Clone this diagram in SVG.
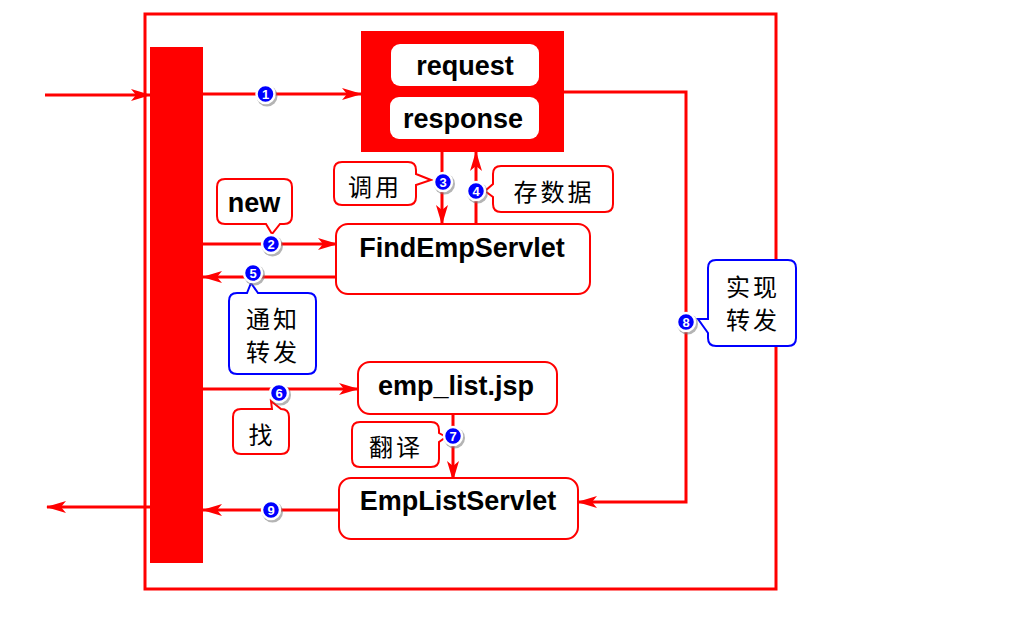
<svg xmlns="http://www.w3.org/2000/svg" width="1024" height="638" viewBox="0 0 1024 638">
<style>
.frame{fill:none;stroke:#ff0000;stroke-width:3}
.bar{fill:#ff0000}
.box{fill:#ffffff;stroke:#ff0000;stroke-width:2}
.ibox{fill:#ffffff;stroke:none}
.lbl{font-family:"Liberation Sans",Arial,sans-serif;font-weight:bold;font-size:27px;fill:#000000;text-anchor:middle}
.cn{font-family:"Noto Sans CJK SC","Noto Sans",sans-serif;font-size:24px;fill:#000000;text-anchor:middle;dominant-baseline:central;letter-spacing:3px}
.co{fill:#ffffff;stroke:#ff0000;stroke-width:2}
.cb{fill:#ffffff;stroke:#0000ff;stroke-width:2}
.con{fill:none;stroke:#ff0000;stroke-width:3}
.bsh{fill:#777777;opacity:0.55}
.bc{fill:#0000ff;stroke:#ffffff;stroke-width:2.5}
.bn{font-family:"Liberation Sans",Arial,sans-serif;font-weight:bold;font-size:13px;fill:#ffffff;text-anchor:middle;dominant-baseline:central}
</style>
<defs>
<marker id="ah" markerUnits="userSpaceOnUse" markerWidth="20" markerHeight="12" viewBox="0 0 20 12" refX="19" refY="6" orient="auto">
<path d="M0,0 L20,6 L0,12 L5,6 Z" fill="#ff0000"/>
</marker>
</defs>
<rect width="1024" height="638" fill="#ffffff"/>
<rect id="frame" class="frame" x="145" y="14" width="631" height="575"/>
<g id="container"><rect class="bar" x="150" y="47" width="53" height="516"/></g>

<g id="connectors">
<path class="con" d="M45,95 H150" marker-end="url(#ah)"/>
<path class="con" d="M203,94 H361" marker-end="url(#ah)"/>
<path class="con" d="M203,244 H337" marker-end="url(#ah)"/>
<path class="con" d="M442,152 V224" marker-end="url(#ah)"/>
<path class="con" d="M476,224 V152" marker-end="url(#ah)"/>
<path class="con" d="M336,277 H203" marker-end="url(#ah)"/>
<path class="con" d="M203,389 H358" marker-end="url(#ah)"/>
<path class="con" d="M453,414 V480" marker-end="url(#ah)"/>
<path class="con" d="M564,92 H686 V502 H578" marker-end="url(#ah)"/>
<path class="con" d="M339,510 H203" marker-end="url(#ah)"/>
<path class="con" d="M150,507 H47" marker-end="url(#ah)"/>
</g>

<g id="reqresp">
<rect class="bar" x="361" y="31" width="203" height="121"/>
<rect class="ibox" x="391" y="44" width="148" height="42" rx="9"/>
<rect class="ibox" x="390" y="97" width="149" height="42" rx="9"/>
<text class="lbl" x="465" y="75">request</text>
<text class="lbl" x="463" y="128">response</text>
</g>

<g id="findemp">
<rect class="box" x="336" y="224" width="254" height="70" rx="12"/>
<text class="lbl" x="462" y="257">FindEmpServlet</text>
</g>

<g id="emplistjsp">
<rect class="box" x="358" y="362" width="199" height="52" rx="12"/>
<text class="lbl" x="456" y="395">emp_list.jsp</text>
</g>

<g id="emplistservlet">
<rect class="box" x="339" y="478" width="239" height="61" rx="12"/>
<text class="lbl" x="458" y="510">EmpListServlet</text>
</g>

<g id="callout-new">
<path class="co" d="M225,179 H284 Q292,179 292,187 V216 Q292,224 284,224 H280 L272,234 L266,224 H225 Q217,224 217,216 V187 Q217,179 225,179 Z"/>
<text class="lbl" x="254" y="212">new</text>
</g>

<g id="callout-diaoyong">
<path class="co" d="M342,162 H408 Q416,162 416,170 V174 L431,180 L416,185 V197 Q416,205 408,205 H342 Q334,205 334,197 V170 Q334,162 342,162 Z"/>
<text class="cn" x="375" y="185">调用</text>
</g>

<g id="callout-cunshuju">
<path class="co" d="M501,166 H605 Q613,166 613,174 V204 Q613,212 605,212 H501 Q493,212 493,204 V197 L485,191 L493,184 V174 Q493,166 501,166 Z"/>
<text class="cn" x="554" y="190">存数据</text>
</g>

<g id="callout-tongzhi">
<path class="cb" d="M237,293 H247 L251,283 L258,293 H308 Q316,293 316,301 V366 Q316,374 308,374 H237 Q229,374 229,366 V301 Q229,293 237,293 Z"/>
<text class="cn" x="273" y="317">通知</text>
<text class="cn" x="273" y="350">转发</text>
</g>

<g id="callout-zhao">
<path class="co" d="M241,409 H272 L271,401 L281,409 Q289,409 289,417 V446 Q289,454 281,454 H241 Q233,454 233,446 V417 Q233,409 241,409 Z"/>
<text class="cn" x="262" y="433">找</text>
</g>

<g id="callout-fanyi">
<path class="co" d="M360,422 H431 Q439,422 439,430 V433 L446,437 L439,442 V459 Q439,467 431,467 H360 Q352,467 352,459 V430 Q352,422 360,422 Z"/>
<text class="cn" x="396" y="445">翻译</text>
</g>

<g id="callout-shixian">
<path class="cb" d="M716,260 H788 Q796,260 796,268 V338 Q796,346 788,346 H716 Q708,346 708,338 V333 L698,319 L708,319 V268 Q708,260 716,260 Z"/>
<text class="cn" x="753" y="285">实现</text>
<text class="cn" x="753" y="318">转发</text>
</g>

<g id="badges">
<g><circle class="bsh" cx="267" cy="96" r="10.5"/><circle class="bc" cx="265.5" cy="94" r="9"/><text class="bn" x="265.5" y="94">1</text></g>
<g><circle class="bsh" cx="272.5" cy="246" r="10.5"/><circle class="bc" cx="271" cy="244" r="9"/><text class="bn" x="271" y="244">2</text></g>
<g><circle class="bsh" cx="444.5" cy="184" r="10.5"/><circle class="bc" cx="443" cy="182" r="9"/><text class="bn" x="443" y="182">3</text></g>
<g><circle class="bsh" cx="477.5" cy="193" r="10.5"/><circle class="bc" cx="476" cy="191" r="9"/><text class="bn" x="476" y="191">4</text></g>
<g><circle class="bsh" cx="254.5" cy="275" r="10.5"/><circle class="bc" cx="253" cy="273" r="9"/><text class="bn" x="253" y="273">5</text></g>
<g><circle class="bsh" cx="280.5" cy="395" r="10.5"/><circle class="bc" cx="279" cy="393" r="9"/><text class="bn" x="279" y="393">6</text></g>
<g><circle class="bsh" cx="454.5" cy="438" r="10.5"/><circle class="bc" cx="453" cy="436" r="9"/><text class="bn" x="453" y="436">7</text></g>
<g><circle class="bsh" cx="687.5" cy="324" r="10.5"/><circle class="bc" cx="686" cy="322" r="9"/><text class="bn" x="686" y="322">8</text></g>
<g><circle class="bsh" cx="272.5" cy="512" r="10.5"/><circle class="bc" cx="271" cy="510" r="9"/><text class="bn" x="271" y="510">9</text></g>
</g>
</svg>
